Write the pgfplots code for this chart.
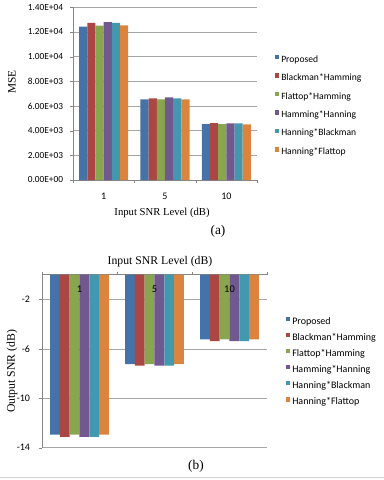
\documentclass[border=0pt]{standalone}
\usepackage{fontspec}
\setmainfont{Liberation Serif}
\newfontfamily\calibri{Carlito}
\usepackage{pgfplots}
\pgfplotsset{compat=1.18}
\definecolor{sblue}{HTML}{4572A7}
\definecolor{sred}{HTML}{AA4643}
\definecolor{sgreen}{HTML}{89A54E}
\definecolor{spurple}{HTML}{71588F}
\definecolor{steal}{HTML}{4198AF}
\definecolor{sorange}{HTML}{DB843D}
\definecolor{axgray}{HTML}{868686}
\definecolor{gridgray}{HTML}{A6A6A6}

\pgfplotsset{
  excel/.style={
    scale only axis,
    anchor=south west,
    xmin=0.5, xmax=3.5,
    axis line style={axgray},
    tick style={axgray},
    tick align=outside,
    major tick length=2.25pt,
    ymajorgrids,
    grid style={gridgray, line width=0.5pt},
    xtick={0.5,1.5,2.5,3.5},
    xticklabels={},
    scaled ticks=false,
    yticklabel style={inner sep=0pt},
    legend cell align=left,
  },
  sqlegend/.style={
    legend image code/.code={\fill[##1] (0pt,0.4pt) rectangle (3.2pt,3.6pt);},
  },
}

\begin{document}
\begin{tikzpicture}[x=1pt,y=1pt]
\useasboundingbox (0,0) rectangle (288,360);

% (a) MSE
\begin{axis}[excel,
  at={(54.75pt,225pt)}, width=138pt, height=129.5pt,
  ybar=0pt, bar width=6.13pt, sqlegend, clip=false,
  ymin=0, ymax=14000,
  axis x line*=bottom, axis y line*=left,
  ytick={0,2000,4000,6000,8000,10000,12000,14000},
  yticklabels={0.00E+00,2.00E+03,4.00E+03,6.00E+03,8.00E+03,1.00E+04,1.20E+04,1.40E+04},
  tick label style={font=\calibri\fontsize{7}{8}\selectfont},
  yticklabel style={xshift=-5pt},
  legend style={at={(axis description cs:1.0978,0.7243)}, anchor=north west,
    draw=none, fill=none, inner sep=0pt, outer sep=0pt,
    nodes={inner sep=0pt, text height=5pt, text depth=1.5pt},
    column sep=1.5pt, row sep=7pt,
    font=\calibri\fontsize{7.2}{8}\selectfont},
]
  \addplot[fill=sblue, draw=none] coordinates {(1,12430) (2,6540) (3,4530)};
  \addplot[fill=sred, draw=none] coordinates {(1,12750) (2,6620) (3,4620)};
  \addplot[fill=sgreen, draw=none] coordinates {(1,12510) (2,6540) (3,4540)};
  \addplot[fill=spurple, draw=none] coordinates {(1,12810) (2,6700) (3,4590)};
  \addplot[fill=steal, draw=none] coordinates {(1,12750) (2,6620) (3,4590)};
  \addplot[fill=sorange, draw=none] coordinates {(1,12530) (2,6540) (3,4510)};
  \legend{Proposed,Blackman*Hamming,Flattop*Hamming,Hamming*Hanning,Hanning*Blackman,Hanning*Flattop}
  \node[font=\calibri\fontsize{7.5}{8}\selectfont] at (axis cs:1,0) [yshift=-12pt] {1};
  \node[font=\calibri\fontsize{7.5}{8}\selectfont] at (axis cs:2,0) [yshift=-12pt] {5};
  \node[font=\calibri\fontsize{7.5}{8}\selectfont] at (axis cs:3,0) [yshift=-12pt] {10};
\end{axis}
\node[font=\fontsize{8}{9}\selectfont] at (121.5,200.5) {Input SNR Level (dB)};
\node[font=\fontsize{8.5}{9}\selectfont, rotate=90] at (9,298.5) {MSE};
\node[font=\fontsize{10}{11}\selectfont] at (163.5,186.75) {(a)};

% (b) Output SNR
\begin{axis}[excel,
  at={(31.5pt,24.2pt)}, width=168.75pt, height=129.8pt,
  ybar=0pt, bar width=7.37pt, sqlegend,
  ymin=-14, ymax=0,
  axis x line*=top, axis y line*=left,
  ytick={-14,-10,-6,-2},
  yticklabels={-14,-10,-6,-2},
  tick label style={font=\calibri\fontsize{7.5}{8}\selectfont},
  yticklabel style={xshift=-6.5pt},
  legend style={at={(axis description cs:1.0844,0.7558)}, anchor=north west,
    draw=none, fill=none, inner sep=0pt, outer sep=0pt,
    nodes={inner sep=0pt, text height=5.5pt, text depth=1.6pt},
    column sep=1.5pt, row sep=4.9pt,
    font=\calibri\fontsize{7.5}{8}\selectfont},
]
  \addplot[fill=sblue, draw=none] coordinates {(1,-12.93) (2,-7.24) (3,-5.24)};
  \addplot[fill=sred, draw=none] coordinates {(1,-13.12) (2,-7.35) (3,-5.38)};
  \addplot[fill=sgreen, draw=none] coordinates {(1,-12.93) (2,-7.24) (3,-5.24)};
  \addplot[fill=spurple, draw=none] coordinates {(1,-13.12) (2,-7.35) (3,-5.38)};
  \addplot[fill=steal, draw=none] coordinates {(1,-13.12) (2,-7.35) (3,-5.38)};
  \addplot[fill=sorange, draw=none] coordinates {(1,-12.93) (2,-7.24) (3,-5.24)};
  \legend{Proposed,Blackman*Hamming,Flattop*Hamming,Hamming*Hanning,Hanning*Blackman,Hanning*Flattop}
  \node[font=\calibri\fontsize{7.8}{8}\selectfont] at (axis cs:1,0) [yshift=-10.8pt] {1};
  \node[font=\calibri\fontsize{7.8}{8}\selectfont] at (axis cs:2,0) [yshift=-10.8pt] {5};
  \node[font=\calibri\fontsize{7.8}{8}\selectfont] at (axis cs:3,0) [yshift=-10.8pt] {10};
\end{axis}
\node[font=\fontsize{8.8}{10}\selectfont] at (120,163.5) {Input SNR Level (dB)};
\node[font=\fontsize{8.8}{10}\selectfont, rotate=90] at (9,81.4) {Output SNR (dB)};
\node[font=\fontsize{10}{11}\selectfont] at (147,10) {(b)};
\draw[gray!35, line width=0.6pt] (0,2) -- (288,2);
\end{tikzpicture}
\end{document}
